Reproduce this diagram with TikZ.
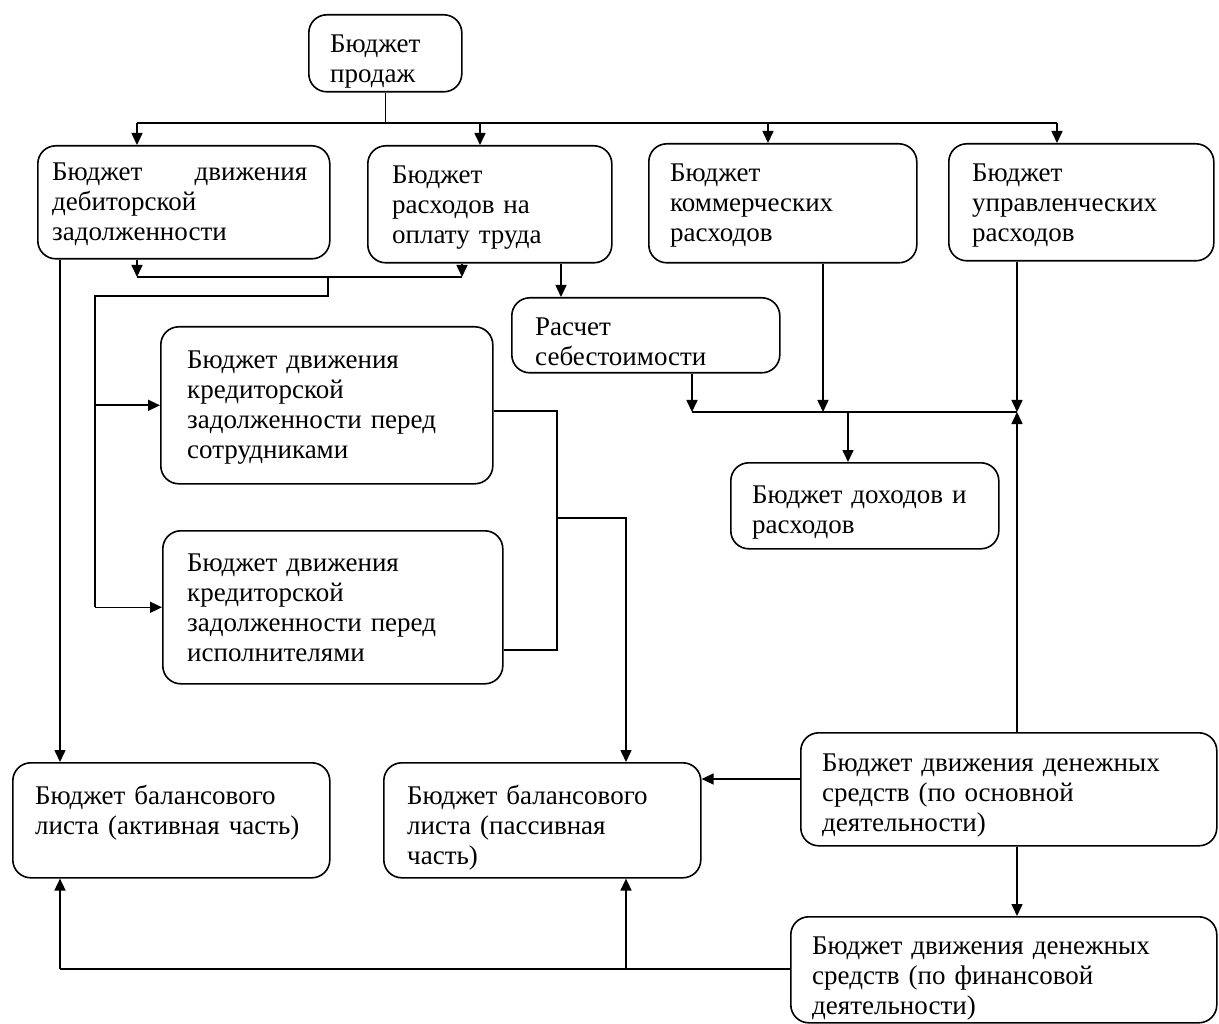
\documentclass[tikz,border=0pt]{standalone}
\usepackage{fontspec}
\setmainfont{Liberation Serif}
\usetikzlibrary{arrows.meta}
\begin{document}
\begin{tikzpicture}[x=1pt,y=-1pt,
  box/.style={draw, line width=1.6pt, rounded corners=18pt, inner sep=0pt, anchor=north west},
  txt/.style={anchor=base west, inner sep=0pt, align=left, text width=420pt, font=\fontsize{27}{30}\selectfont},
  ln/.style={line width=1.6pt},
  arr/.style={ln, -{Triangle[length=12pt,width=11pt]}}]
\useasboundingbox[fill=white] (0,0) rectangle (1219,1024);

% boxes
\node[box, minimum width=153pt, minimum height=77pt]  (sales) at (308,14) {};
\node[box, minimum width=292pt, minimum height=113pt] (A)   at (37,145) {};
\node[box, minimum width=244pt, minimum height=117pt] (B)   at (367,145) {};
\node[box, minimum width=268pt, minimum height=119pt] (C)   at (648,143) {};
\node[box, minimum width=265pt, minimum height=117pt] (D)   at (948,143) {};
\node[box, minimum width=268pt, minimum height=75pt]  (R)   at (511,297) {};
\node[box, minimum width=332pt, minimum height=157pt] (K1)  at (160,326) {};
\node[box, minimum width=340pt, minimum height=153pt] (K2)  at (162,530) {};
\node[box, minimum width=268pt, minimum height=86pt]  (Inc) at (730,462) {};
\node[box, minimum width=317pt, minimum height=115pt] (Act) at (12,762) {};
\node[box, minimum width=317pt, minimum height=115pt] (Pas) at (383,762) {};
\node[box, minimum width=416pt, minimum height=113pt] (Osn) at (800,732) {};
\node[box, minimum width=426pt, minimum height=106pt] (Fin) at (790,916) {};

% texts
\node[txt] (salesT) at (330,53) {Бюджет\\продаж};
\node[txt, text width=255pt] (AT) at (52,181) {Бюджет\hfill движения\\дебиторской\\задолженности};
\node[txt] (BT) at (392,184) {Бюджет\\расходов на\\оплату труда};
\node[txt] (CT) at (670,182) {Бюджет\\коммерческих\\расходов};
\node[txt] (DT) at (972,182) {Бюджет\\управленческих\\расходов};
\node[txt] (RT) at (535,336) {Расчет\\себестоимости};
\node[txt] (K1T) at (187,369) {Бюджет движения\\кредиторской\\задолженности перед\\сотрудниками};
\node[txt] (K2T) at (187,571) {Бюджет движения\\кредиторской\\задолженности перед\\исполнителями};
\node[txt] (IncT) at (752,503) {Бюджет доходов и\\расходов};
\node[txt] (ActT) at (35,804) {Бюджет балансового\\листа (активная часть)};
\node[txt] (PasT) at (407,804) {Бюджет балансового\\листа (пассивная\\часть)};
\node[txt] (OsnT) at (822,771) {Бюджет движения денежных\\средств (по основной\\деятельности)};
\node[txt] (FinT) at (812,954) {Бюджет движения денежных\\средств (по финансовой\\деятельности)};

% coordinates
\coordinate (b1) at (137,123);
\coordinate (b2) at (480,123);
\coordinate (b3) at (768,123);
\coordinate (b4) at (1057,123);
\coordinate (m1) at (137,277);
\coordinate (m2) at (462,277);
\coordinate (m3) at (328,277);
\coordinate (m4) at (328,296);
\coordinate (m5) at (95,296);
\coordinate (l60) at (60,0);
\coordinate (x561) at (561,0);
\coordinate (h1) at (692,412);
\coordinate (h2) at (823,412);
\coordinate (h3) at (1017,412);
\coordinate (h4) at (848,412);
\coordinate (k1) at (557,411);
\coordinate (k2) at (557,650);
\coordinate (k3) at (557,518);
\coordinate (k4) at (626,518);
\coordinate (f1) at (60,969);
\coordinate (f2) at (626,969);
\coordinate (y779) at (0,779);

% top bus
\draw[ln] (sales.south) -- (sales.south |- b1);
\draw[ln] (b1) -- (b4);
\draw[arr] (b1) -- (b1 |- A.north);
\draw[arr] (b2) -- (b2 |- B.north);
\draw[arr] (b3) -- (b3 |- C.north);
\draw[arr] (b4) -- (b4 |- D.north);

% A, B to junction
\draw[arr] (A.south -| m1) -- (m1);
\draw[arr] (B.south -| m2) -- (m2);
\draw[ln] (m1) -- (m2);
\draw[ln] (m3) -- (m4) -- (m5) -- (m5 |- K2.west);
\draw[arr] (m5 |- K1.west) -- (K1.west);
\draw[arr] (m5 |- K2.west) -- (K2.west);

% A to active balance
\draw[arr] (A.south -| l60) -- (Act.north -| l60);

% B to cost calc
\draw[arr] (B.south -| x561) -- (R.north -| x561);

% to income
\draw[arr] (R.south -| h1) -- (h1);
\draw[arr] (C.south -| h2) -- (h2);
\draw[arr] (D.south -| h3) -- (h3);
\draw[ln] (h1) -- (h3);
\draw[arr] (h4) -- (Inc.north -| h4);

% cash operating
\draw[arr] (Osn.north -| h3) -- (h3);
\draw[arr] (Osn.south -| h3) -- (Fin.north -| h3);
\draw[arr] (Osn.west |- y779) -- (Pas.east |- y779);

% creditor to passive
\draw[ln] (K1.east |- k1) -- (k1) -- (k2) -- (K2.east |- k2);
\draw[arr] (k3) -- (k4) -- (Pas.north -| k4);

% financial to balances
\draw[ln] (Fin.west |- f1) -- (f1);
\draw[arr] (f1) -- (Act.south -| f1);
\draw[arr] (f2) -- (Pas.south -| f2);
\end{tikzpicture}
\end{document}
